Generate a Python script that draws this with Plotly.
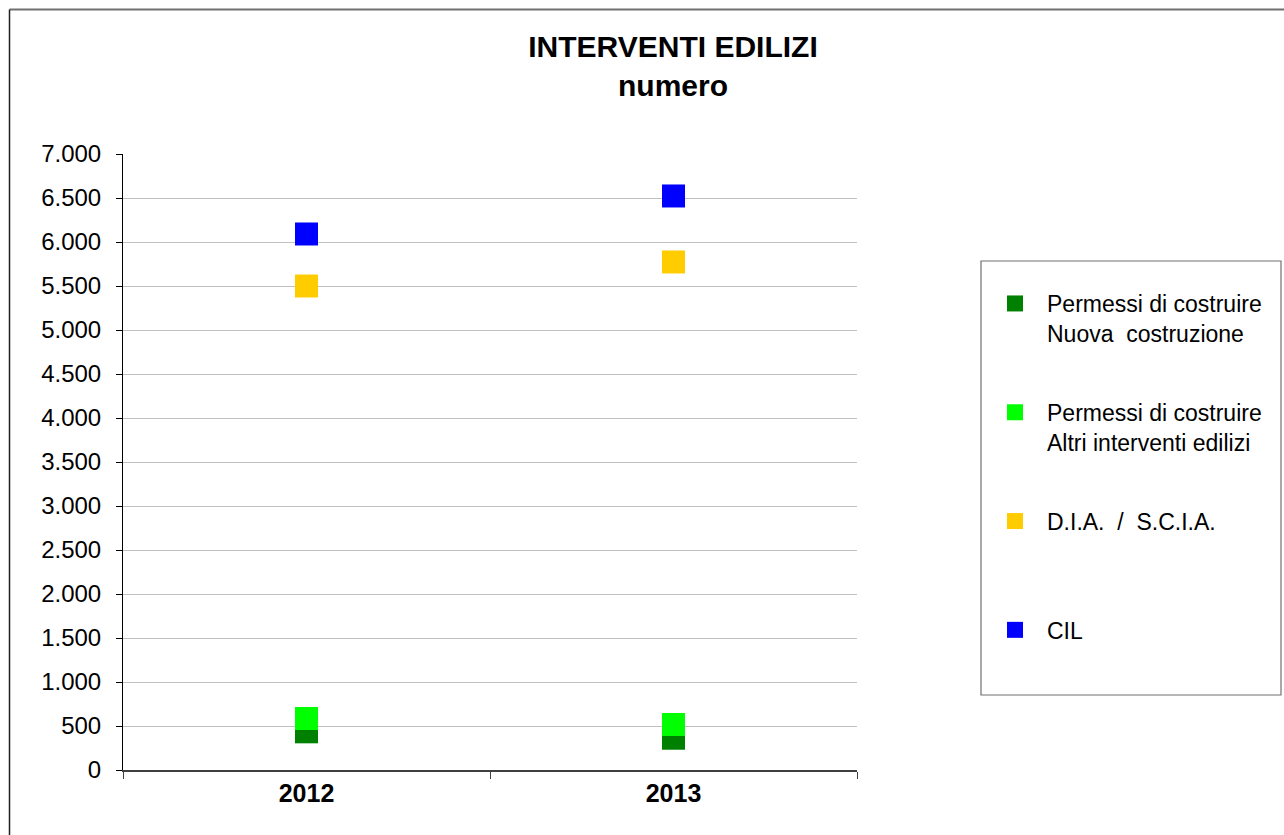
import plotly.graph_objects as go

years = ["2012", "2013"]
nuova_costruzione = [434, 361]
altri_interventi = [585, 517]
dia_scia = [5500, 5773]
cil = [6091, 6523]

series_names = [
    "Permessi di costruire<br>Nuova  costruzione",
    "Permessi di costruire<br>Altri interventi edilizi",
    "D.I.A.  /  S.C.I.A.<br> ",
    "CIL<br> ",
]
series_colors = ["#008000", "#00ff00", "#ffcc00", "#0000ff"]
series_values = [nuova_costruzione, altri_interventi, dia_scia, cil]

y_tickvals = [0, 500, 1000, 1500, 2000, 2500, 3000, 3500, 4000, 4500, 5000, 5500, 6000, 6500, 7000]
y_ticktext = ["0", "500", "1.000", "1.500", "2.000", "2.500", "3.000", "3.500", "4.000",
              "4.500", "5.000", "5.500", "6.000", "6.500", "7.000"]

FONT = "Liberation Sans, Arial, sans-serif"

fig = go.Figure()
for i, (name, color, vals) in enumerate(zip(series_names, series_colors, series_values)):
    fig.add_trace(go.Scatter(
        x=years, y=vals, mode="markers", name=name, legendgroup=f"g{i}",
        marker=dict(symbol="square", size=23, color=color, line=dict(width=0)),
    ))

W, H = 1284, 835
L, R, T, B = 123, 857, 154, 770

def px_x(p):
    return (p - L) / (R - L)

def px_y(p):
    return (B - p) / (B - T)

fig.update_layout(
    width=W, height=H,
    margin=dict(l=L, r=W - R, t=T, b=H - B),
    paper_bgcolor="white", plot_bgcolor="white",
    font=dict(family=FONT, color="black"),
    title=dict(
        text="<b>INTERVENTI EDILIZI<br>numero</b>",
        font=dict(size=30, family=FONT, color="black"),
        x=px_x(673), xref="paper", xanchor="center",
        y=1 - 57 / H, yref="container", yanchor="top",
    ),
    xaxis=dict(
        type="category", range=[-0.5, 1.5],
        tickson="boundaries", ticks="outside", ticklen=7, tickcolor="#404040",
        showline=True, linecolor="#404040", linewidth=1.5,
        showgrid=False, zeroline=False,
        tickfont=dict(size=25, family=FONT, color="black", weight="bold"),
    ),
    yaxis=dict(
        range=[0, 7000], tickmode="array", tickvals=y_tickvals, ticktext=y_ticktext,
        ticks="outside", ticklen=6, tickcolor="black",
        showline=True, linecolor="black", linewidth=1,
        showgrid=True, gridcolor="#c0c0c0", gridwidth=1, zeroline=False,
        tickfont=dict(size=24, family=FONT, color="black"),
        ticklabelstandoff=10,
    ),
    legend=dict(
        x=px_x(983), xanchor="left", xref="paper",
        y=px_y(282), yanchor="top", yref="paper",
        bgcolor="rgba(0,0,0,0)", borderwidth=0,
        font=dict(size=23, family=FONT, color="black"),
        tracegroupgap=46, itemwidth=54, valign="top",
        itemclick=False, itemdoubleclick=False,
    ),
    showlegend=True,
    shapes=[
        dict(type="rect", xref="paper", yref="paper",
             x0=px_x(981), x1=px_x(1281), y0=px_y(695), y1=px_y(261),
             line=dict(color="#707070", width=1.2), fillcolor="rgba(0,0,0,0)"),
        dict(type="line", xref="paper", yref="paper",
             x0=px_x(9.5), x1=px_x(1300), y0=px_y(9.5), y1=px_y(9.5),
             line=dict(color="#707070", width=2)),
        dict(type="line", xref="paper", yref="paper",
             x0=px_x(9.5), x1=px_x(9.5), y0=px_y(9.5), y1=px_y(850),
             line=dict(color="#202020", width=1.5)),
    ],
)

fig.write_html(
    "out.html",
    config={"displayModeBar": False},
    post_script="document.body.style.margin='0px';document.body.style.overflow='hidden';",
)
